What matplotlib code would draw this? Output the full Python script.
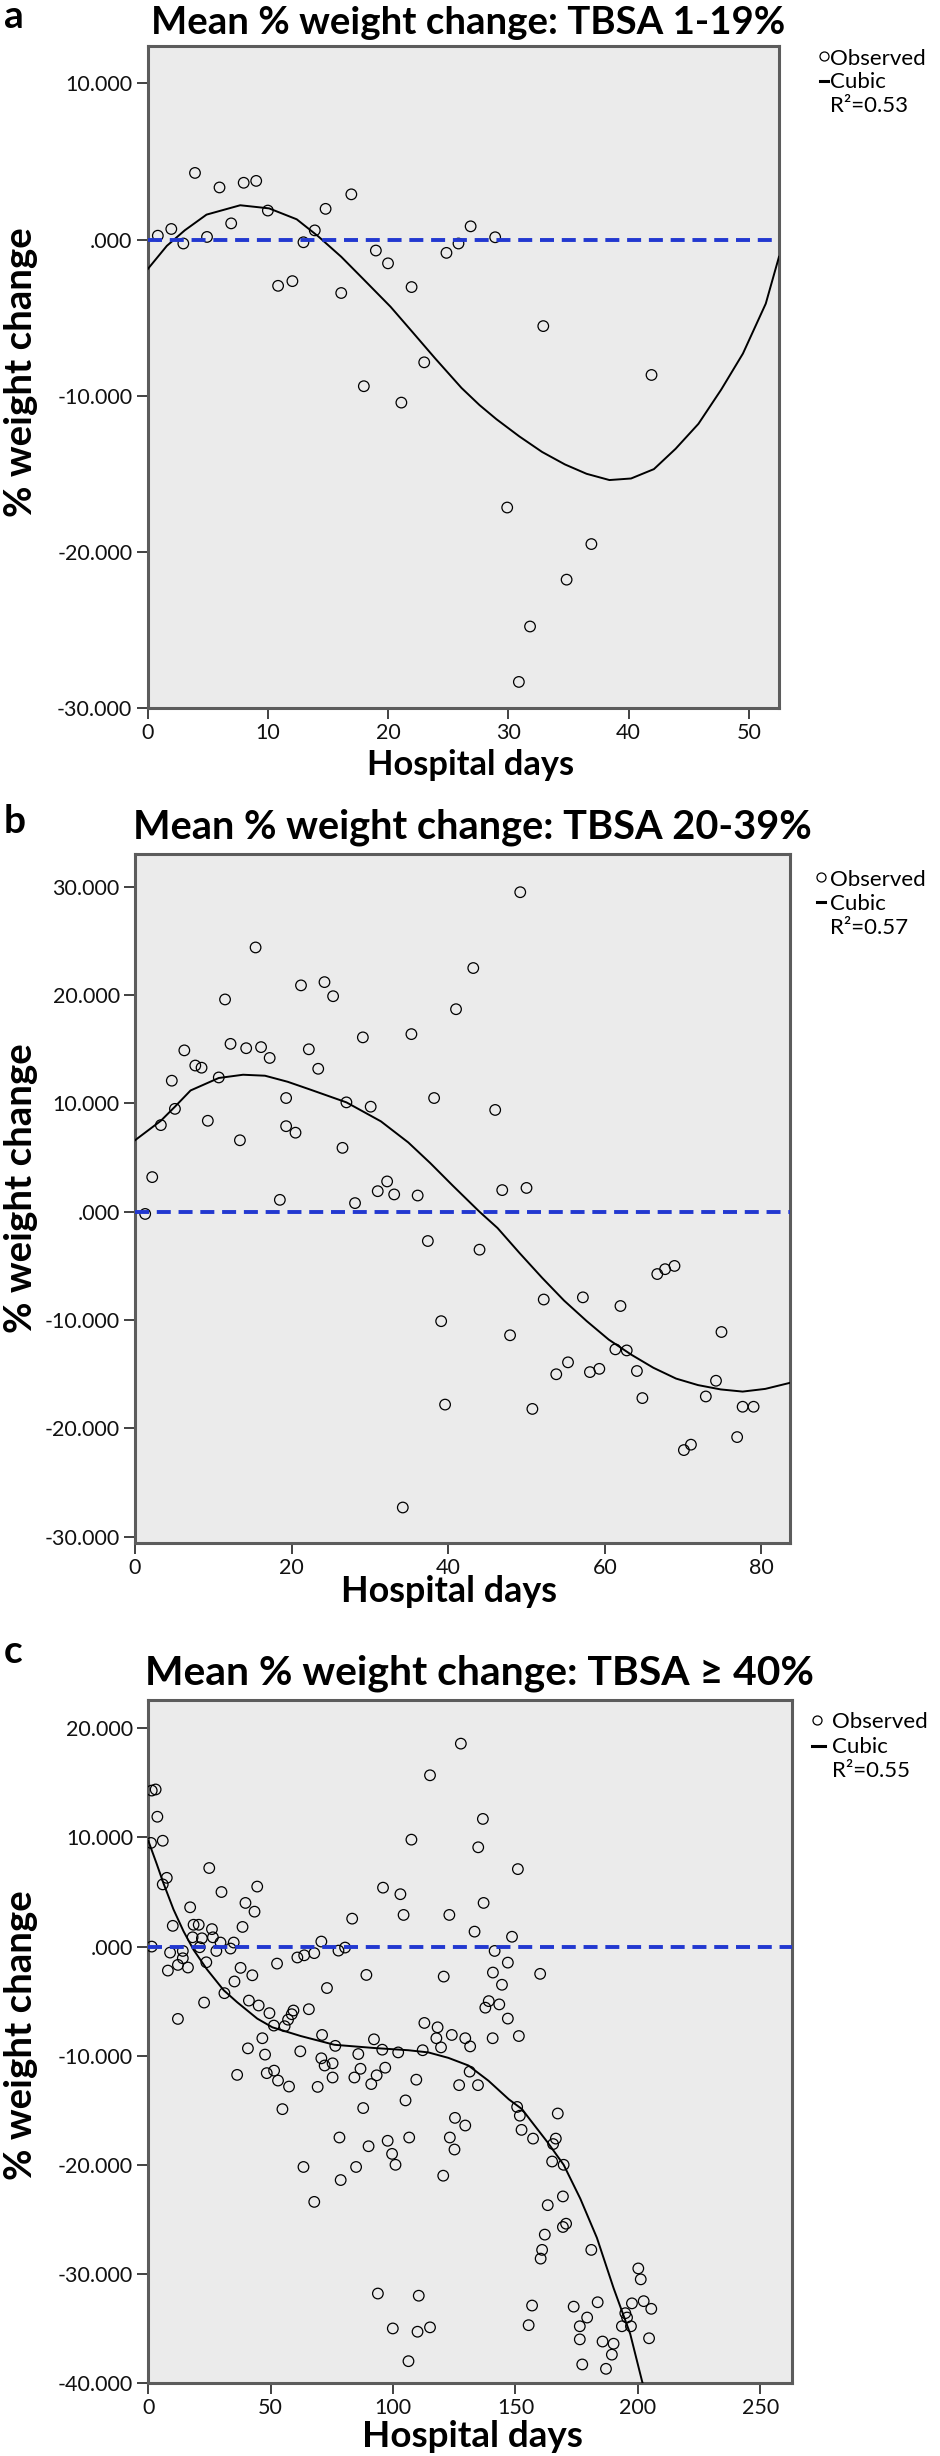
import matplotlib
matplotlib.use("Agg")
import matplotlib.pyplot as plt
from matplotlib.lines import Line2D
from matplotlib.ticker import FuncFormatter, MultipleLocator

plt.rcParams['font.family'] = ['Lato', 'DejaVu Sans']

W, H = 940, 2456

# panel a: TBSA 1-19%
a_days = [0.85, 1.97, 2.97, 3.94, 4.94, 5.98, 6.95, 7.99, 9.03, 10.0, 10.85, 12.04,
          12.96, 13.9, 14.8, 16.1, 16.94, 17.98, 18.98, 19.99, 21.1, 21.95, 23.0,
          24.85, 25.85, 26.86, 28.9, 29.9, 30.87, 31.8, 32.9, 34.84, 36.9, 41.9]
a_change = [0.25, 0.68, -0.25, 4.27, 0.17, 3.34, 1.04, 3.64, 3.76, 1.86, -2.96, -2.66,
            -0.17, 0.59, 1.97, -3.42, 2.9, -9.39, -0.70, -1.52, -10.44, -3.04, -7.86,
            -0.85, -0.25, 0.85, 0.15, -17.16, -28.33, -24.78, -5.54, -21.78, -19.5, -8.67]
a_fit_x = [0, 1.6, 3.1, 4.9, 7.7, 10.1, 12.4, 14.2, 16.1, 17.9, 20.2, 22.0, 23.9, 26.1,
           27.6, 29.0, 30.9, 32.8, 34.7, 36.5, 38.4, 40.2, 42.1, 43.9, 45.8, 47.7, 49.5,
           51.4, 52.5]
a_fit_y = [-1.9, -0.4, 0.6, 1.6, 2.2, 2.0, 1.3, 0.2, -1.1, -2.5, -4.3, -5.9, -7.6, -9.5,
           -10.6, -11.5, -12.6, -13.6, -14.4, -15.0, -15.4, -15.3, -14.7, -13.4, -11.8,
           -9.6, -7.3, -4.1, -1.1]

# panel b: TBSA 20-39%
b_days = [1.3, 2.2, 3.3, 5.1, 4.7, 6.3, 7.7, 8.5, 9.3, 10.7, 11.5, 12.2, 13.4, 14.2, 15.4,
          16.1, 17.2, 18.5, 19.3, 19.3, 20.5, 21.2, 22.2, 23.4, 24.2, 25.3, 26.5, 27.0,
          28.1, 29.1, 30.1, 31.0, 32.2, 33.1, 35.3, 36.1, 37.4, 38.2, 41.0, 43.2, 46.0,
          46.9, 49.2, 50.0, 44.0, 39.1, 39.6, 34.2, 47.9, 50.75, 52.2, 53.8, 55.3, 57.2,
          58.1, 59.3, 61.35, 62.0, 62.8, 64.1, 64.8, 66.7, 67.7, 68.9, 70.1, 71.0, 72.9,
          74.2, 74.9, 76.9, 77.6, 79.0]
b_change = [-0.2, 3.2, 8.0, 9.5, 12.1, 14.9, 13.5, 13.3, 8.4, 12.4, 19.6, 15.5, 6.6, 15.1,
            24.4, 15.2, 14.2, 1.1, 10.5, 7.9, 7.3, 20.9, 15.0, 13.2, 21.2, 19.9, 5.9, 10.1,
            0.8, 16.1, 9.7, 1.9, 2.8, 1.6, 16.4, 1.5, -2.7, 10.5, 18.7, 22.5, 9.4,
            2.0, 29.5, 2.2, -3.5, -10.1, -17.8, -27.3, -11.4, -18.2, -8.1, -15.0, -13.9, -7.9,
            -14.8, -14.5, -12.7, -8.7, -12.8, -14.7, -17.2, -5.75, -5.3, -5.0, -22.0, -21.5, -17.05,
            -15.6, -11.1, -20.8, -18.0, -18.0]
b_fit_x = [0, 3.3, 5.1, 7.1, 10.7, 13.8, 16.6, 19.5, 22.3, 27.0, 31.4, 34.9, 37.7, 40.6,
           44.0, 46.3, 49.1, 52.0, 54.8, 57.7, 60.5, 63.4, 66.2, 69.1, 71.9, 74.8, 77.6,
           80.5, 83.6]
b_fit_y = [6.6, 8.4, 9.7, 11.2, 12.35, 12.65, 12.56, 12.0, 11.3, 10.1, 8.35, 6.4, 4.5, 2.4,
           0.0, -1.5, -3.8, -6.1, -8.2, -10.1, -11.8, -13.2, -14.4, -15.4, -16.0, -16.4,
           -16.6, -16.35, -15.8]

# panel c: TBSA >= 40%
c_days = [1.4, 3.0, 3.7, 1.1, 5.9, 7.55, 5.9, 24.9, 29.9, 44.5, 39.7, 43.4, 17.1, 10.0,
          18.5, 20.6, 26.0, 38.5, 18.1, 21.9, 26.4, 29.5, 34.9, 1.4, 21.0, 27.8, 33.6, 8.9,
          14.1, 14.1, 12.1, 8.0, 16.2, 23.7, 37.7, 42.5, 35.2, 52.6, 31.1, 22.8, 12.1, 41.1,
          45.1, 49.5, 51.3, 55.7, 57.1, 58.6, 59.3, 65.6, 70.7, 60.9, 63.7, 67.8, 73.0, 71.0,
          46.6, 77.7, 80.4, 83.3, 89.1, 92.2, 95.9, 103.0, 104.3, 107.5, 115.1, 127.7, 123.0,
          120.7, 112.8, 118.2, 117.7, 124.0, 129.5, 136.7, 134.8, 137.0, 133.3, 148.6, 151.0,
          141.5, 146.9, 140.8, 144.5, 139.1, 137.7, 143.4, 146.9, 140.7, 151.4, 160.1,
          40.7, 36.3, 47.7, 48.4, 51.4, 53.0, 57.5, 54.8, 62.1, 69.2, 70.7, 72.05, 75.3, 75.3,
          76.4, 78.1, 78.6, 67.8, 63.4, 84.2, 85.8, 86.7, 87.8, 84.9, 90.0, 91.1, 93.3, 95.6,
          96.8, 97.8, 99.6, 101.0, 102.1, 105.1, 106.6, 109.5, 112.1, 119.6, 131.5, 131.3,
          127.0, 134.7, 125.3, 129.5, 123.2, 125.1, 120.5, 93.8, 110.5, 99.9, 110.0, 115.1,
          106.3, 150.7, 151.8, 152.5,
          157.2, 167.3, 166.5, 165.4, 165.0, 169.7, 169.4, 163.2, 170.7, 169.4, 162.0, 160.9,
          160.3, 181.0, 200.2, 201.2, 202.4, 205.5, 197.6, 194.9, 195.6, 193.5, 197.2, 204.6,
          183.6, 173.8, 179.3, 176.3, 176.3, 177.3, 185.6, 190.1, 189.4, 187.0, 156.8, 155.4]
c_change = [14.3, 14.4, 11.9, 9.5, 9.7, 6.3, 5.7, 7.2, 5.0, 5.5, 4.0, 3.2, 3.6, 1.9,
            2.0, 2.0, 1.6, 1.8, 0.85, 0.76, 0.85, 0.37, 0.37, 0.0, -0.06, -0.4, -0.18, -0.55,
            -0.4, -1.07, -1.68, -2.2, -1.92, -1.44, -1.95, -2.63, -3.2, -1.56, -4.27, -5.13, -6.63, -4.95,
            -5.4, -6.1, -7.24, -7.3, -6.7, -6.2, -5.86, -5.74, 0.46, -1.0, -0.8, -0.6, -3.8, -8.1,
            -8.4, -0.37, -0.09, 2.56, -2.6, -8.5, 5.4, 4.8, 2.9, 9.8, 15.7, 18.6, 2.9,
            -2.75, -7.0, -7.4, -8.4, -8.1, -8.4, 11.7, 9.1, 4.0, 1.37, 0.9, 7.1,
            -0.4, -1.47, -2.38, -3.5, -5.0, -5.6, -5.3, -6.6, -8.4, -8.2, -2.5,
            -9.33, -11.76, -9.9, -11.6, -11.37, -12.28, -12.83, -14.9, -9.6, -12.86, -10.24, -10.9, -10.7, -12.0,
            -9.1, -17.5, -21.4, -23.4, -20.2, -12.0, -9.85, -11.2, -14.8, -20.2, -18.3, -12.6, -11.8, -9.45,
            -11.1, -17.8, -19.0, -20.0, -9.7, -14.1, -17.5, -12.2, -9.5, -9.24, -9.15, -11.46,
            -12.7, -12.7, -15.7, -16.4, -17.5, -18.6, -21.0, -31.8, -32.0, -35.0, -35.3, -34.9,
            -38.0, -14.7, -15.5, -16.8,
            -17.6, -15.3, -17.6, -18.1, -19.7, -20.0, -22.9, -23.7, -25.4, -25.7, -26.4, -27.8,
            -28.6, -27.8, -29.5, -30.5, -32.5, -33.2, -32.7, -33.6, -34.0, -34.8, -34.8, -35.9,
            -32.6, -33.0, -34.0, -34.8, -36.0, -38.3, -36.2, -36.4, -37.4, -38.7, -32.9, -34.7]
c_fit_x = [0, 3.4, 6.2, 10.3, 14.4, 18.5, 24.0, 30.8, 36.3, 44.5, 50.7, 62.3, 76.0, 92.5,
           106.2, 114.4, 122.6, 130.8, 139.0, 147.3, 152.7, 156.1, 163.0, 169.7, 176.5,
           183.3, 190.1, 196.9, 201.7, 202.2]
c_fit_y = [9.7, 7.6, 5.8, 3.4, 1.4, -0.3, -2.1, -4.0, -5.1, -6.6, -7.4, -8.2, -9.0, -9.3,
           -9.5, -9.7, -10.2, -10.9, -12.3, -14.0, -14.9, -15.9, -17.9, -20.0, -23.1,
           -26.7, -31.3, -35.5, -39.8, -40.2]

titles = ['Mean % weight change: TBSA 1-19%',
          'Mean % weight change: TBSA 20-39%',
          'Mean % weight change: TBSA \u2265 40%']
r2_values = ['0.53', '0.57', '0.55']


def fx(x):
    return x / W


def fy(y):
    return 1 - y / H


def y_fmt(v, pos):
    s = f"{v:.3f}"
    if s in ("0.000", "-0.000"):
        return ".000"
    return s


fig = plt.figure(figsize=(W / 100, H / 100), dpi=100)
renderer = fig.canvas.get_renderer()


def fit_width(t, target, vertical=False):
    # scale the font so the text spans the same number of pixels as in the reference
    ext = t.get_window_extent(renderer=renderer)
    size = ext.height if vertical else ext.width
    t.set_fontsize(t.get_fontsize() * target / size)


def draw_panel(box, days, change, fit_x, fit_y, xlim, ylim, xstep):
    left, top, right, bottom = box
    ax = fig.add_axes([left / W, 1 - bottom / H, (right - left) / W, (bottom - top) / H])
    ax.set_facecolor('#ebebeb')
    ax.scatter(days, change, s=58, facecolors='none', edgecolors='black',
               linewidths=0.9, zorder=3)
    ax.plot(fit_x, fit_y, color='black', lw=1.4, zorder=4)
    ax.axhline(0, color='#2238d0', lw=2.8, dashes=(3.6, 2.0), zorder=5)
    ax.set_xlim(*xlim)
    ax.set_ylim(*ylim)
    ax.xaxis.set_major_locator(MultipleLocator(xstep))
    ax.yaxis.set_major_locator(MultipleLocator(10))
    ax.yaxis.set_major_formatter(FuncFormatter(y_fmt))
    ax.tick_params(labelsize=15.5, length=8, width=1.3, pad=3,
                   color='#333333', labelcolor='#111111')
    for side in ['top', 'right', 'left', 'bottom']:
        ax.spines[side].set_color('#5c5c5c')
        ax.spines[side].set_linewidth(2.2)
    return ax


def draw_legend(xm, dash, xt, ym, yd, baselines, r2):
    fig.add_artist(Line2D([fx(xm)], [fy(ym)], marker='o', ms=6.5, mfc='none', mec='black',
                          mew=0.9, transform=fig.transFigure))
    fig.add_artist(Line2D([fx(dash[0]), fx(dash[1])], [fy(yd), fy(yd)], color='black',
                          lw=2.2, transform=fig.transFigure))
    for txt, yb in zip(['Observed', 'Cubic', 'R\u00b2=' + r2], baselines):
        fig.text(fx(xt), fy(yb), txt, fontsize=16, ha='left', va='baseline')


def draw_texts(title, tx, ty, tw, lx, ly, lw, yly, letter, lety):
    t = fig.text(fx(tx), fy(ty), title, fontsize=28, fontweight='bold',
                 ha='center', va='baseline')
    fit_width(t, tw)
    xl = fig.text(fx(lx), fy(ly), 'Hospital days', fontsize=28, fontweight='bold',
                  ha='center', va='baseline')
    fit_width(xl, lw)
    yl = fig.text(fx(21), fy(yly), '% weight change', fontsize=28, fontweight='bold',
                  rotation=90, ha='center', va='center')
    fit_width(yl, 290, vertical=True)
    fig.text(fx(4), fy(lety), letter, fontsize=28, fontweight='bold', ha='left', va='baseline')


# panel a
draw_panel((147.6, 46, 779, 708), a_days, a_change, a_fit_x, a_fit_y,
           (0, 52.5), (-30, 12.4), 10)
draw_texts(titles[0], 468, 34, 634, 471, 775, 207, 372, 'a', 28)
draw_legend(823.5, (820, 828), 830, 56, 81, (65, 88, 111.7), r2_values[0])

# panel b
draw_panel((135, 854.3, 789.6, 1542.7), b_days, b_change, b_fit_x, b_fit_y,
           (0, 83.6), (-30.55, 33.0), 20)
draw_texts(titles[1], 472, 839, 680, 449, 1602, 216, 1188, 'b', 833)
draw_legend(821, (817, 825), 830, 876.7, 901.7, (886, 910, 934), r2_values[1])

# panel c
draw_panel((148.3, 1700, 792, 2383), c_days, c_change, c_fit_x, c_fit_y,
           (0, 263), (-40, 22.6), 50)
draw_texts(titles[2], 480, 1684, 670, 472, 2447, 221, 2035, 'c', 1663)
draw_legend(817.3, (811.7, 825), 831.7, 1720, 1746, (1728, 1753, 1777), r2_values[2])

fig.savefig('out.png', dpi=100)
